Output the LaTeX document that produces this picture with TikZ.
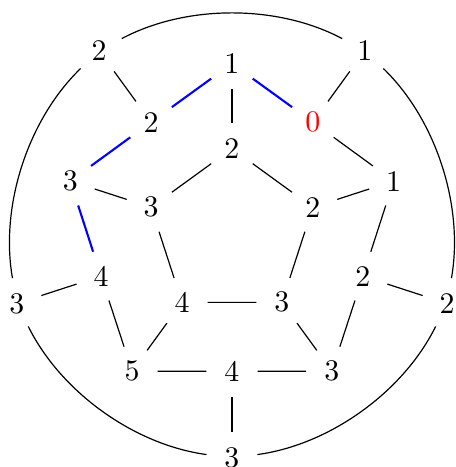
\documentclass[tikz,border=0pt]{standalone}
\usepackage{tikz}
\usetikzlibrary{positioning}

\begin{document}
\begin{tikzpicture}[
  vertex/.style={circle, inner sep=0pt, minimum size=5.9mm},
  source/.style={circle, inner sep=0pt, minimum size=5.9mm, text=red},
  edge/.style={draw=black, line width=0.4pt},
  route/.style={draw=blue, line width=0.7pt},
  rim/.style={draw=black, line width=0.4pt, bend left=28, looseness=0.85}
]
\useasboundingbox (-2.729,-2.746) rectangle (2.624,2.748);

% --------- INNER PENTAGON ----------
\node[vertex] (I1) at (90:1) {2};
\node[vertex] (I2) at (162:1) {3};
\node[vertex] (I3) at (234:1) {4};
\node[vertex] (I4) at (306:1) {3};
\node[vertex] (I5) at (18:1) {2};

% --------- MIDDLE RING ----------
\node[vertex] (M0) at (90:2) {1};
\node[source] (M1) at (54:1.62) {0};
\node[vertex] (M2) at (18:2) {1};
\node[vertex] (M3) at (-18:1.62) {2};
\node[vertex] (M4) at (-54:2) {3};
\node[vertex] (M5) at (-90:1.62) {4};
\node[vertex] (M6) at (-126:2) {5};
\node[vertex] (M7) at (-162:1.62) {4};
\node[vertex] (M8) at (162:2) {3};
\node[vertex] (M9) at (126:1.62) {2};

% --------- OUTER RING ----------
\node[vertex] (O1) at (54:2.66) {1};
\node[vertex] (O2) at (-18:2.66) {2};
\node[vertex] (O3) at (-90:2.64) {3};
\node[vertex] (O4) at (-162:2.66) {3};
\node[vertex] (O5) at (126:2.66) {2};

% inner pentagon
\draw[edge] (I1) -- (I2) -- (I3) -- (I4) -- (I5) -- (I1);

% middle ring
\draw[edge] (M1) -- (M2);
\draw[edge] (M2) -- (M3);
\draw[edge] (M3) -- (M4);
\draw[edge] (M4) -- (M5);
\draw[edge] (M5) -- (M6);
\draw[edge] (M6) -- (M7);

% shortest path to the source
\draw[route] (M0) -- (M1);
\draw[route] (M9) -- (M0);
\draw[route] (M8) -- (M9);
\draw[route] (M7) -- (M8);

% spokes
\draw[edge] (M0) -- (I1);
\draw[edge] (M2) -- (I5);
\draw[edge] (M4) -- (I4);
\draw[edge] (M6) -- (I3);
\draw[edge] (M8) -- (I2);
\draw[edge] (M1) -- (O1);
\draw[edge] (M3) -- (O2);
\draw[edge] (M5) -- (O3);
\draw[edge] (M7) -- (O4);
\draw[edge] (M9) -- (O5);

% outer arcs
\draw[rim] (O5) to (O1);
\draw[rim] (O1) to (O2);
\draw[rim] (O2) to (O3);
\draw[rim] (O3) to (O4);
\draw[rim] (O4) to (O5);

\end{tikzpicture}
\end{document}
